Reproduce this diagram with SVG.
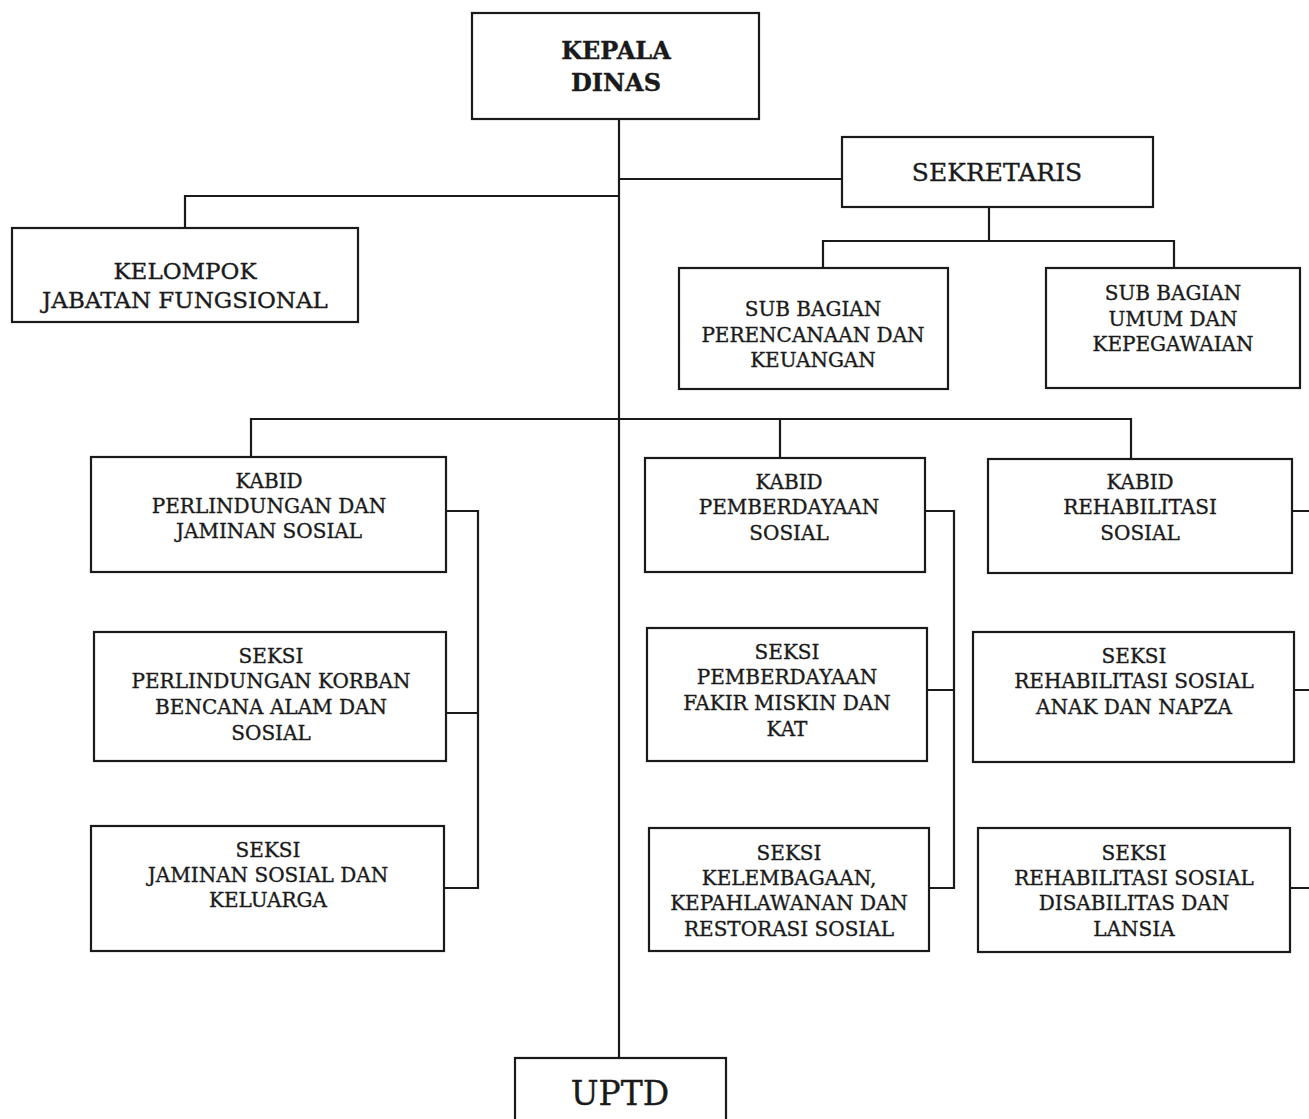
<svg xmlns="http://www.w3.org/2000/svg" width="1309" height="1119" viewBox="0 0 1309 1119">
<style>
.box{fill:#fff;stroke:#1a1a1a;stroke-width:2.2}
.ln{fill:none;stroke:#1a1a1a;stroke-width:2.2}
text{font-family:"DejaVu Serif","Liberation Serif",serif;fill:#1a1a1a;stroke:#1a1a1a;stroke-width:0.35;text-anchor:middle}
.t{font-size:20px}
.tl{font-size:23px}
</style>
<rect width="1309" height="1119" fill="#fff"/>
<g id="connectors">
<path class="ln" d="M619 119V1058"/>
<path class="ln" d="M619 179H842"/>
<path class="ln" d="M619 196H185V228"/>
<path class="ln" d="M989 207V241M823 268V241H1174V268"/>
<path class="ln" d="M251 457V419H1131V459M780 419V458"/>
<path class="ln" d="M446 511H478V888H444M446 713H478"/>
<path class="ln" d="M925 511H954V888H929M927 690H954"/>
<path class="ln" d="M1292 511H1309M1294 690H1309M1290 888H1309"/>
</g>
<g id="kepala"><rect class="box" x="472" y="13" width="287" height="106"/>
<text font-size="24" font-weight="bold" x="616" y="59">KEPALA</text>
<text font-size="24" font-weight="bold" x="616" y="91">DINAS</text></g>
<g id="sekretaris"><rect class="box" x="842" y="137" width="311" height="70"/>
<text font-size="25" x="997" y="181">SEKRETARIS</text></g>
<g id="kelompok"><rect class="box" x="12" y="228" width="346" height="94"/>
<text class="tl" x="185" y="279">KELOMPOK</text>
<text class="tl" x="185" y="308">JABATAN FUNGSIONAL</text></g>
<g id="subbag-perencanaan"><rect class="box" x="679" y="268" width="269" height="121"/>
<text class="t" x="813" y="316">SUB BAGIAN</text>
<text class="t" x="813" y="342">PERENCANAAN DAN</text>
<text class="t" x="813" y="367">KEUANGAN</text></g>
<g id="subbag-umum"><rect class="box" x="1046" y="268" width="254" height="120"/>
<text class="t" x="1173" y="300">SUB BAGIAN</text>
<text class="t" x="1173" y="326">UMUM DAN</text>
<text class="t" x="1173" y="351">KEPEGAWAIAN</text></g>
<g id="kabid-perlindungan"><rect class="box" x="91" y="457" width="355" height="115"/>
<text class="t" x="269" y="488">KABID</text>
<text class="t" x="269" y="513">PERLINDUNGAN DAN</text>
<text class="t" x="269" y="538">JAMINAN SOSIAL</text></g>
<g id="kabid-pemberdayaan"><rect class="box" x="645" y="458" width="280" height="114"/>
<text class="t" x="789" y="489">KABID</text>
<text class="t" x="789" y="514">PEMBERDAYAAN</text>
<text class="t" x="789" y="540">SOSIAL</text></g>
<g id="kabid-rehabilitasi"><rect class="box" x="988" y="459" width="304" height="114"/>
<text class="t" x="1140" y="489">KABID</text>
<text class="t" x="1140" y="514">REHABILITASI</text>
<text class="t" x="1140" y="540">SOSIAL</text></g>
<g id="seksi-korban"><rect class="box" x="94" y="632" width="352" height="129"/>
<text class="t" x="271" y="663">SEKSI</text>
<text class="t" x="271" y="688">PERLINDUNGAN KORBAN</text>
<text class="t" x="271" y="714">BENCANA ALAM DAN</text>
<text class="t" x="271" y="740">SOSIAL</text></g>
<g id="seksi-jaminan"><rect class="box" x="91" y="826" width="353" height="125"/>
<text class="t" x="268" y="857">SEKSI</text>
<text class="t" x="268" y="882">JAMINAN SOSIAL DAN</text>
<text class="t" x="268" y="907">KELUARGA</text></g>
<g id="seksi-fakir"><rect class="box" x="647" y="628" width="280" height="133"/>
<text class="t" x="787" y="659">SEKSI</text>
<text class="t" x="787" y="684">PEMBERDAYAAN</text>
<text class="t" x="787" y="710">FAKIR MISKIN DAN</text>
<text class="t" x="787" y="736">KAT</text></g>
<g id="seksi-kelembagaan"><rect class="box" x="649" y="828" width="280" height="123"/>
<text class="t" x="789" y="860">SEKSI</text>
<text class="t" x="789" y="885">KELEMBAGAAN,</text>
<text class="t" x="789" y="910">KEPAHLAWANAN DAN</text>
<text class="t" x="789" y="936">RESTORASI SOSIAL</text></g>
<g id="seksi-anak"><rect class="box" x="973" y="632" width="321" height="130"/>
<text class="t" x="1134" y="663">SEKSI</text>
<text class="t" x="1134" y="688">REHABILITASI SOSIAL</text>
<text class="t" x="1134" y="714">ANAK DAN NAPZA</text></g>
<g id="seksi-disabilitas"><rect class="box" x="978" y="828" width="312" height="124"/>
<text class="t" x="1134" y="860">SEKSI</text>
<text class="t" x="1134" y="885">REHABILITASI SOSIAL</text>
<text class="t" x="1134" y="910">DISABILITAS DAN</text>
<text class="t" x="1134" y="936">LANSIA</text></g>
<g id="uptd"><rect class="box" x="515" y="1058" width="211" height="80"/>
<text font-size="33" x="620" y="1105">UPTD</text></g>
</svg>
